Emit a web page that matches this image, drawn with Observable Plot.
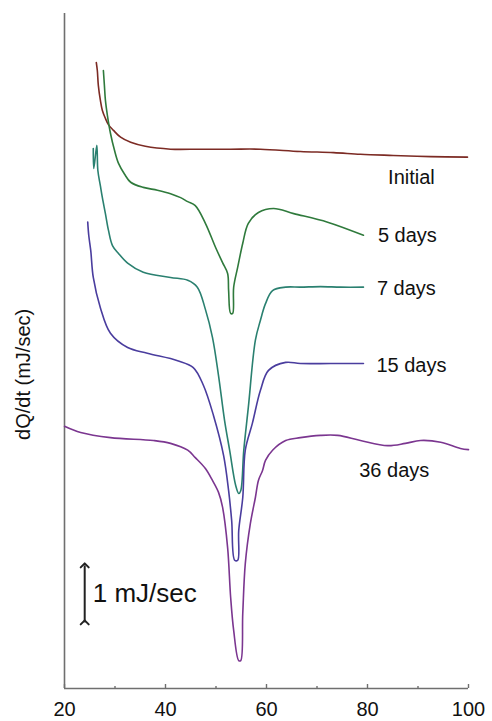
<!DOCTYPE html>
<html>
<head>
<meta charset="utf-8">
<script src="https://cdn.jsdelivr.net/npm/d3@7"></script>
<script src="https://cdn.jsdelivr.net/npm/@observablehq/plot@0.6"></script>
<style>
  html, body { margin: 0; padding: 0; background: #fff; }
  #chart svg { display: block; }
</style>
</head>
<body>
<div id="chart"></div>
<script>
// DSC thermograms: heat flow (mJ/sec, curves offset vertically) vs temperature (°C)

const initialT = [26.3, 26.5, 26.7, 27.1, 27.5, 28.1, 28.7, 29.7, 31.1, 33.1, 36.0, 41.0, 46.9, 52.9, 58.8, 66.7, 73.3, 78.6, 85.1, 92.5, 99.8];
const initialQ = [10.98, 10.84, 10.58, 10.32, 10.14, 10.00, 9.89, 9.79, 9.67, 9.58, 9.51, 9.46, 9.46, 9.46, 9.46, 9.42, 9.40, 9.37, 9.35, 9.33, 9.32];

const day5T = [27.7, 27.9, 28.1, 28.5, 29.1, 29.9, 30.7, 31.9, 33.1, 35.6, 38.4, 41.0, 43.0, 44.4, 45.9, 47.9, 49.9, 51.3, 52.3, 52.5, 52.9, 53.3, 53.5, 54.3, 55.3, 56.4, 58.4, 61.4, 65.4, 72.1, 79.2];
const day5Q = [10.84, 10.58, 10.32, 10.05, 9.74, 9.44, 9.21, 9.02, 8.88, 8.79, 8.74, 8.68, 8.61, 8.54, 8.47, 8.16, 7.74, 7.47, 7.28, 6.98, 6.58, 6.58, 7.04, 7.39, 7.81, 8.16, 8.35, 8.42, 8.33, 8.18, 7.95];

const day7T = [25.7, 25.8, 26.4, 26.6, 27.1, 27.5, 28.1, 28.7, 29.5, 30.7, 32.5, 35.6, 41.0, 44.4, 46.3, 47.9, 49.3, 50.5, 51.7, 52.7, 53.9, 54.5, 54.9, 55.5, 56.4, 57.8, 58.8, 59.8, 61.2, 63.8, 66.7, 70.7, 74.7, 79.2];
const day7Q = [9.47, 9.12, 9.53, 9.09, 8.82, 8.61, 8.33, 8.04, 7.77, 7.63, 7.46, 7.30, 7.21, 7.16, 7.04, 6.65, 6.16, 5.49, 4.70, 4.18, 3.56, 3.42, 3.47, 4.18, 4.93, 6.11, 6.46, 6.75, 6.98, 7.04, 7.04, 7.05, 7.04, 7.04];

const day15T = [24.6, 24.8, 25.2, 25.7, 27.1, 29.1, 32.5, 36.4, 42.4, 45.5, 47.5, 49.5, 51.5, 52.5, 53.1, 53.7, 54.3, 54.5, 55.3, 55.8, 57.2, 58.8, 60.4, 63.8, 66.7, 72.7, 79.2];
const day15Q = [8.18, 7.95, 7.68, 7.21, 6.68, 6.23, 5.98, 5.88, 5.75, 5.63, 5.32, 4.79, 4.09, 3.47, 2.95, 2.25, 2.25, 2.77, 3.35, 4.18, 4.65, 5.23, 5.58, 5.72, 5.70, 5.70, 5.70];

const day36T = [20.0, 23.2, 29.1, 37.6, 41.0, 44.4, 45.9, 47.9, 49.3, 50.5, 51.3, 52.3, 52.9, 53.5, 54.5, 54.9, 55.3, 55.8, 56.8, 57.8, 58.4, 59.2, 59.8, 61.2, 63.8, 66.7, 70.7, 74.1, 78.6, 84.0, 87.5, 90.5, 94.5, 98.4, 100.0];
const day36Q = [4.60, 4.49, 4.40, 4.35, 4.30, 4.18, 4.05, 3.86, 3.65, 3.44, 3.18, 2.47, 1.60, 1.02, 0.49, 0.49, 1.32, 2.19, 2.89, 3.35, 3.65, 3.82, 4.00, 4.18, 4.35, 4.40, 4.44, 4.44, 4.35, 4.26, 4.30, 4.35, 4.32, 4.21, 4.19];

const seriesNames = ["Initial", "5 days", "7 days", "15 days", "36 days"];
const seriesColors = ["#7c2b24", "#2f7a3c", "#2a8070", "#4a3d9e", "#7b3690"];

// curve labels (temperature, heat-flow level of label centre)
const labelT = [88.7, 87.9, 87.7, 88.7, 85.3];
const labelQ = [8.96, 7.95, 7.02, 5.67, 3.82];

const xTicks = [20, 40, 60, 80, 100];
const xMinorTicks = [30, 50, 70, 90];

const scaleBarT = 24.0;   // position of the 1 mJ/sec scale bar
const scaleBarQ = 1.16;
const scaleBarSpan = 1;   // mJ/sec

const allT = [initialT, day5T, day7T, day15T, day36T];
const allQ = [initialQ, day5Q, day7Q, day15Q, day36Q];

const points = [];
seriesNames.forEach((name, i) => {
  allT[i].forEach((t, j) => points.push({series: name, T: t, Q: allQ[i][j]}));
});
const labels = seriesNames.map((name, i) => ({series: name, T: labelT[i], Q: labelQ[i]}));

const axisColor = "#6f6f6f";
const fontFamily = 'Arial, "Liberation Sans", Helvetica, sans-serif';

const chart = Plot.plot({
  width: 492,
  height: 721,
  marginLeft: 64,
  marginRight: 24,
  marginTop: 13,
  marginBottom: 33,
  style: {fontFamily, fontSize: "20px", color: "#111", background: "#fff"},
  x: {domain: [20, 100]},
  y: {domain: [0, 11.84], axis: null},
  color: {domain: seriesNames, range: seriesColors},
  marks: [
    Plot.axisX(xTicks, {tickSize: 0, tickPadding: 13, label: null, fontSize: 20, fill: "#111"}),
    Plot.ruleY([0], {stroke: axisColor, strokeWidth: 1.6}),
    Plot.ruleX([20], {y1: 0, y2: 11.84, stroke: axisColor, strokeWidth: 1.6}),
    Plot.ruleX(xTicks, {y1: 0, y2: 0.07, stroke: axisColor, strokeWidth: 1.4}),
    Plot.ruleX(xMinorTicks, {y1: 0, y2: 0.035, stroke: axisColor, strokeWidth: 1.4}),
    Plot.line(points, {x: "T", y: "Q", z: "series", stroke: "series", strokeWidth: 1.6, curve: "catmull-rom"}),
    Plot.text(labels, {x: "T", y: "Q", text: "series", fontSize: 20, fill: "#111", textAnchor: "middle"}),
    Plot.link([{T: scaleBarT, q1: scaleBarQ, q2: scaleBarQ + scaleBarSpan}], {
      x1: "T", x2: "T", y1: "q1", y2: "q2",
      stroke: "#222", strokeWidth: 2, markerStart: "arrow", markerEnd: "arrow"
    }),
    Plot.text([`${scaleBarSpan} mJ/sec`], {
      x: scaleBarT, y: scaleBarQ + scaleBarSpan / 2, dx: 8,
      textAnchor: "start", fontSize: 26, fill: "#111"
    }),
    Plot.text(["dQ/dt (mJ/sec)"], {
      frameAnchor: "left", y: 5.51, dx: -41, rotate: -90,
      textAnchor: "middle", fontSize: 20, fill: "#111"
    })
  ]
});

document.getElementById("chart").appendChild(chart);
</script>
</body>
</html>
